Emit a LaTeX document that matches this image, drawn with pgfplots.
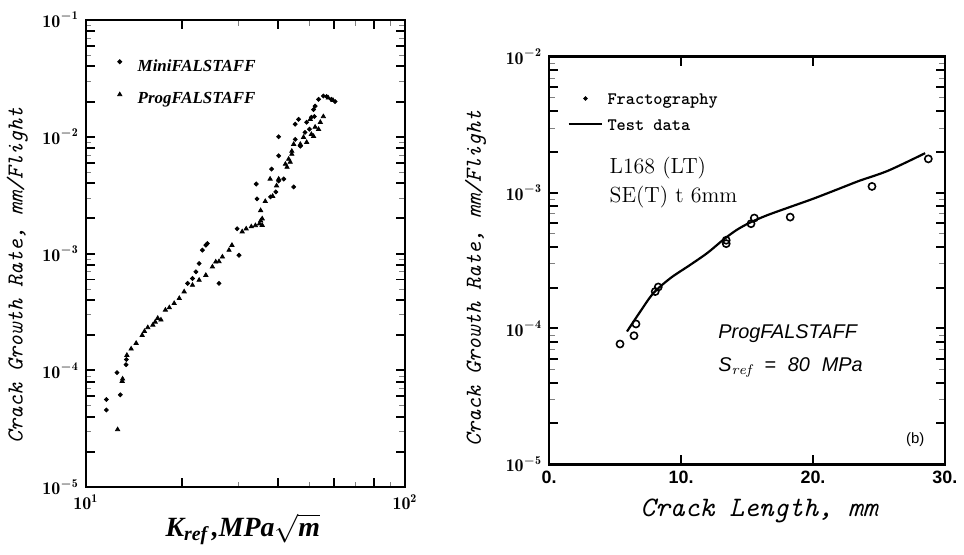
\documentclass[border=0pt]{standalone}
\usepackage{fontspec}
\usepackage{pgfplots}
\pgfplotsset{compat=1.18}
\newfontfamily\helv{Liberation Sans}
\newfontfamily\tms{Liberation Serif}
\newcommand{\sref}{S$_{\mathit{ref}}$\hspace{0.6em}=\hspace{0.6em}80\hspace{0.6em}MPa}
\newcommand{\kref}{{\tms\bfseries\itshape K\raisebox{-0.35ex}{\fontsize{10}{10}\selectfont ref}\,,MPa}$\sqrt{\hbox{\tms\bfseries\itshape m}}$}
\newcommand{\legrow}{\rule[-6.5pt]{0pt}{17.5pt}\hspace{6pt}}
\newcommand{\legrowb}{\rule[-2.5pt]{0pt}{10pt}}

\begin{document}
\begin{tikzpicture}
\path (0pt,0pt) rectangle (482pt,279pt);

% ---------- left panel: rate versus K_ref ----------
\begin{axis}[
  scale only axis,
  at={(43pt,34pt)}, anchor=south west,
  width=160.5pt, height=235pt,
  axis line style={line width=1.2pt},
  tick label style={font=\fontsize{9}{10}\selectfont},
  xmode=log, ymode=log,
  xmin=10, xmax=100, ymin=1e-5, ymax=1e-1,
  xtick={10,100}, xticklabels={$\mathbf{10^{1}}$,$\mathbf{10^{2}}$},
  ytick={1e-5,1e-4,1e-3,1e-2,1e-1},
  yticklabels={$\mathbf{10^{-5}}$,$\mathbf{10^{-4}}$,$\mathbf{10^{-3}}$,$\mathbf{10^{-2}}$,$\mathbf{10^{-1}}$},
  ylabel style={at={(axis description cs:-0.215,0.453)}, anchor=center, font=\fontsize{11.5}{12}\selectfont\ttfamily\itshape},
  xlabel style={at={(axis description cs:0.492,-0.09)}, anchor=center, font=\fontsize{14}{15}\selectfont},
  ylabel={Crack Growth Rate, mm/Flight},
  xlabel={\kref},
  legend style={at={(axis description cs:0.08,0.955)}, anchor=north west,
    draw=none, fill=none, font=\fontsize{8.5}{9}\selectfont\tms\bfseries\itshape},
  legend cell align=left,
]
% tick marks on all four sides, pointing inward
\pgfplotsinvokeforeach{20,40,60,80}{
  \draw[line width=1pt] (axis cs:#1,1e-5) -- ++(0pt,4.5pt);
  \draw[line width=1pt] (axis cs:#1,1e-1) -- ++(0pt,-4.5pt);
}
\pgfplotsinvokeforeach{2e-5,4e-5,6e-5,8e-5,1e-4,2e-4,4e-4,6e-4,8e-4,1e-3,2e-3,4e-3,6e-3,8e-3,1e-2,2e-2,4e-2,6e-2,8e-2}{
  \draw[line width=1pt] (axis cs:10,#1) -- ++(4.5pt,0pt);
  \draw[line width=1pt] (axis cs:100,#1) -- ++(-4.5pt,0pt);
}
\addplot[only marks, mark=*, mark size=1pt, black] table {
x y
11.6 5.64e-5
11.6 4.58e-5
12.83 6.18e-5
12.52 9.57e-5
13.37 1.12e-4
13.4 1.24e-4
20.84 5.56e-4
21.59 6.12e-4
22.13 6.98e-4
22.65 8.22e-4
23.19 1.07e-3
23.77 1.18e-3
24.04 1.22e-3
26.14 5.56e-4
30.2 9.68e-4
29.8 1.63e-3
34.2 3.94e-3
34.4 2.94e-3
37.9 3.06e-3
39.4 3.37e-3
40.2 4.18e-3
41.7 4.35e-3
38.2 5.29e-3
40.2 6.87e-3
40.2 1.0e-2
44.8 3.72e-3
45.3 9.5e-3
45.3 1.28e-2
46.4 1.41e-2
49.2 1.33e-2
50.9 1.47e-2
51.7 1.71e-2
52.3 1.83e-2
53.6 2.09e-2
55.5 2.23e-2
56.8 2.21e-2
58.8 2.09e-2
60.4 2.0e-2
47.0 8.3e-3
48.6 1.09e-2
50.2 1.16e-2
52.0 1.49e-2
};
\addlegendentry{\legrow MiniFALSTAFF}
\addplot[only marks, mark=triangle*, mark size=1.2pt, black] table {
x y
12.58 3.12e-5
13.04 8.47e-5
13.0 8.09e-5
13.45 1.35e-4
13.87 1.53e-4
14.38 1.71e-4
15.02 2.0e-4
15.27 2.16e-4
15.64 2.33e-4
16.22 2.45e-4
16.5 2.6e-4
16.8 2.80e-4
17.2 2.71e-4
17.76 3.29e-4
18.27 3.45e-4
18.92 3.75e-4
19.63 4.14e-4
20.33 4.72e-4
21.59 5.37e-4
22.65 5.93e-4
23.77 6.53e-4
24.93 7.71e-4
25.53 8.50e-4
26.14 8.55e-4
26.79 9.38e-4
28.1 1.07e-3
28.7 1.18e-3
30.9 1.54e-3
31.8 1.63e-3
33.0 1.70e-3
34.0 1.74e-3
35.0 1.80e-3
35.3 1.91e-3
35.7 1.99e-3
35.3 2.34e-3
35.7 1.75e-3
36.5 2.8e-3
37.8 4.35e-3
38.5 3.1e-3
39.6 3.81e-3
40.2 4.35e-3
42.2 5.83e-3
42.7 5.5e-3
43.2 6.44e-3
43.7 6.07e-3
44.2 7.1e-3
44.2 7.53e-3
44.8 8.63e-3
47.0 8.63e-3
48.1 9.9e-3
49.2 8.97e-3
50.9 1.05e-2
51.7 1.01e-2
52.3 1.21e-2
53.6 1.16e-2
54.3 1.33e-2
55.5 1.49e-2
50.5 1.41e-2
57.5 2.15e-2
59.5 2.05e-2
};
\addlegendentry{\legrow ProgFALSTAFF}
\end{axis}

% ---------- right panel: rate versus crack length ----------
\begin{axis}[
  scale only axis,
  at={(276pt,45.5pt)}, anchor=south west,
  width=199pt, height=205pt,
  axis line style={line width=1.2pt},
  tick label style={font=\fontsize{9}{10}\selectfont},
  ymode=log,
  xmin=0, xmax=30, ymin=1e-5, ymax=1e-2,
  xtick={0,10,20,30}, xticklabels={0.,10.,20.,30.},
  xticklabel style={font=\fontsize{9}{10}\selectfont\helv\bfseries},
  ytick={1e-5,1e-4,1e-3,1e-2},
  yticklabels={$\mathbf{10^{-5}}$,$\mathbf{10^{-4}}$,$\mathbf{10^{-3}}$,$\mathbf{10^{-2}}$},
  ylabel style={at={(axis description cs:-0.186,0.456)}, anchor=center, font=\fontsize{11.5}{12}\selectfont\ttfamily\itshape},
  xlabel style={at={(axis description cs:0.53,-0.115)}, anchor=center, font=\fontsize{14.2}{15}\selectfont\ttfamily\itshape},
  ylabel={Crack Growth Rate, mm/Flight},
  xlabel={Crack Length, mm},
  legend style={at={(axis description cs:0.03,0.94)}, anchor=north west,
    draw=none, fill=none, font=\fontsize{8.8}{9}\selectfont\ttfamily\bfseries},
  legend cell align=left,
]
% tick marks on all four sides, pointing inward
\pgfplotsinvokeforeach{10,20}{
  \draw[line width=1pt] (axis cs:#1,1e-5) -- ++(0pt,4.5pt);
  \draw[line width=1pt] (axis cs:#1,1e-2) -- ++(0pt,-4.5pt);
}
\pgfplotsinvokeforeach{2e-5,4e-5,6e-5,8e-5,1e-4,2e-4,4e-4,6e-4,8e-4,1e-3,2e-3,4e-3,6e-3,8e-3}{
  \draw[line width=1pt] (axis cs:0,#1) -- ++(4.5pt,0pt);
  \draw[line width=1pt] (axis cs:30,#1) -- ++(-4.5pt,0pt);
}
\addlegendimage{only marks, mark=*, mark size=0.9pt, black}
\addlegendentry{\legrowb Fractography}
\addlegendimage{black, line width=1.1pt}
\addlegendentry{\legrowb Test data}
\addplot[only marks, mark=o, mark size=1.8pt, line width=0.8pt, black, forget plot] table {
x y
5.37 7.69e-5
6.43 8.85e-5
6.58 1.08e-4
8.04 1.87e-4
8.27 2.02e-4
13.42 4.21e-4
13.42 4.46e-4
15.3 5.9e-4
15.55 6.5e-4
18.27 6.6e-4
24.47 1.11e-3
28.74 1.77e-3
};
\addplot[black, line width=1.1pt, smooth, forget plot] table {
x y
5.9 9.5e-5
6.9 1.33e-4
7.9 1.82e-4
9.2 2.35e-4
10.65 2.92e-4
12.0 3.6e-4
13.2 4.5e-4
14.2 5.3e-4
15.2 6.0e-4
16.5 6.8e-4
18.2 7.8e-4
20.0 9.0e-4
22.0 1.07e-3
23.5 1.22e-3
25.7 1.45e-3
28.5 1.95e-3
};
\node[anchor=north west, font=\fontsize{11}{12}\selectfont] at (axis description cs:0.135,0.77) {L168 (LT)};
\node[anchor=north west, font=\fontsize{11}{12}\selectfont] at (axis description cs:0.135,0.70) {SE(T) t 6mm};
\node[anchor=north west, font=\fontsize{10}{12}\selectfont\helv\itshape] at (axis description cs:0.41,0.36) {ProgFALSTAFF};
\node[anchor=north west, font=\fontsize{10}{12}\selectfont\helv\itshape] at (axis description cs:0.41,0.28) {\sref};
\node[anchor=center, font=\fontsize{7.5}{8}\selectfont\helv] at (axis description cs:0.925,0.061) {(b)};
\end{axis}
\end{tikzpicture}
\end{document}
